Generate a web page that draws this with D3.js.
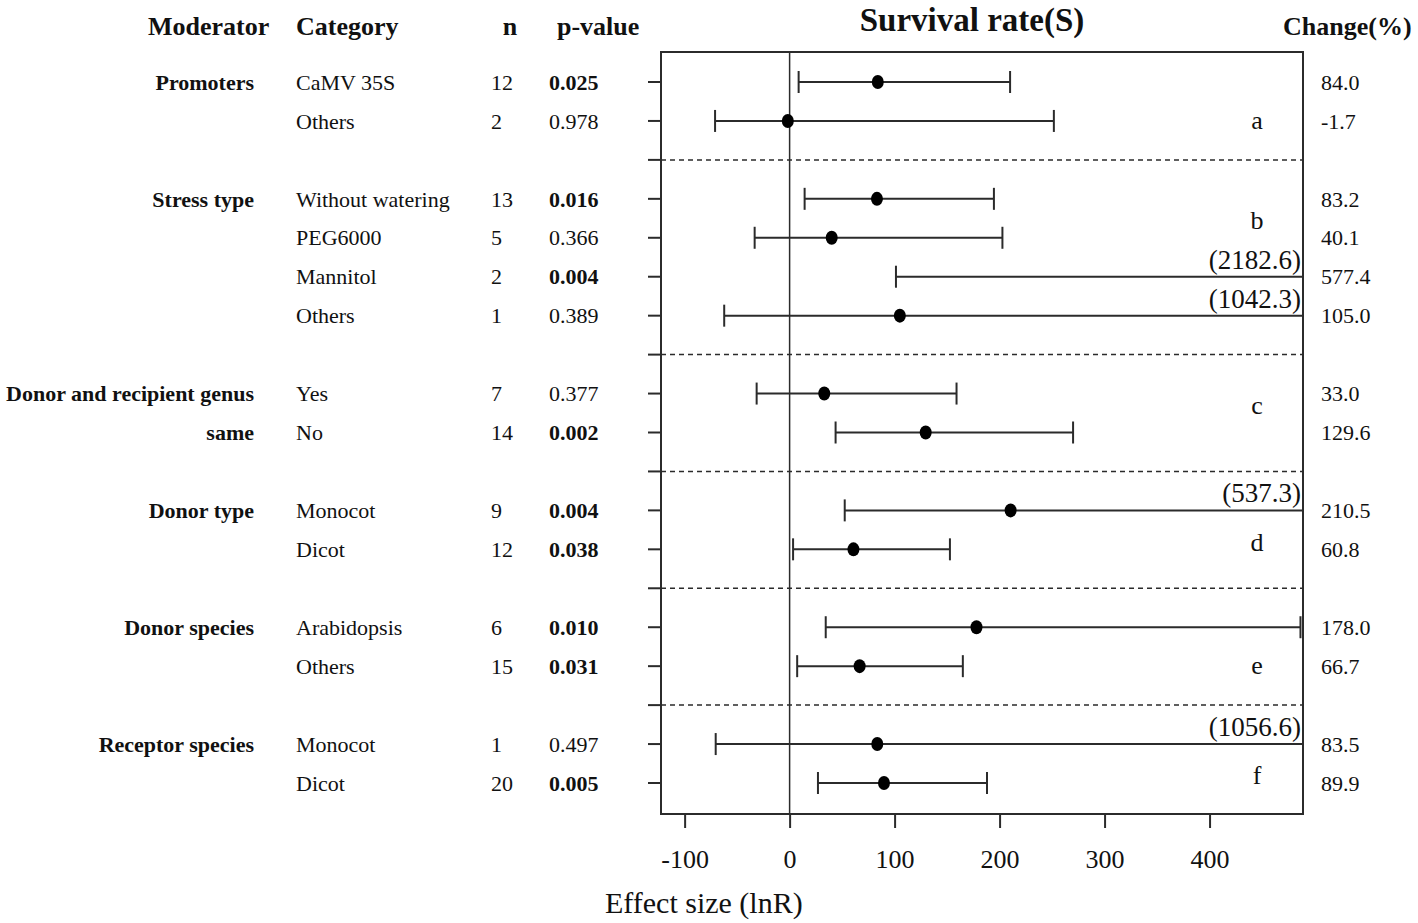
<!DOCTYPE html>
<html>
<head>
<meta charset="utf-8">
<script src="https://cdn.jsdelivr.net/npm/d3@7"></script>
<style>
  html, body { margin: 0; padding: 0; background: #fff; }
  svg { display: block; }
  text { font-family: "Liberation Serif", "Times New Roman", serif; fill: #111; }
</style>
</head>
<body>
<svg id="chart" width="1418" height="923"></svg>
<script>
// ---------- data ----------
const groupNames = ["Promoters", "Stress type", "Donor and recipient genus|same", "Donor type", "Donor species", "Receptor species"];
const groupLetters = ["a", "b", "c", "d", "e", "f"];
const letterRows = [1, 3.57, 8.32, 11.84, 15.0, 17.82];
const categories = ["CaMV 35S", "Others", "Without watering", "PEG6000", "Mannitol", "Others", "Yes", "No", "Monocot", "Dicot", "Arabidopsis", "Others", "Monocot", "Dicot"];
const groupOf = [0, 0, 1, 1, 1, 1, 2, 2, 3, 3, 4, 4, 5, 5];
const nValues = [12, 2, 13, 5, 2, 1, 7, 14, 9, 12, 6, 15, 1, 20];
const pValues = ["0.025", "0.978", "0.016", "0.366", "0.004", "0.389", "0.377", "0.002", "0.004", "0.038", "0.010", "0.031", "0.497", "0.005"];
const means = [84.0, -1.7, 83.2, 40.1, 577.4, 105.0, 33.0, 129.6, 210.5, 60.8, 178.0, 66.7, 83.5, 89.9];
const lowers = [8.6, -71.0, 14.3, -33.3, 101.3, -62.3, -31.4, 43.8, 52.5, 3.3, 34.4, 7.2, -70.4, 27.0];
const uppers = [210.0, 251.7, 194.6, 202.7, 2182.6, 1042.3, 159.0, 270.0, 537.3, 152.7, 486.6, 165.0, 1056.6, 188.0];
const xTicks = [-100, 0, 100, 200, 300, 400];

// ---------- layout ----------
const svg = d3.select("#chart");
const box = { left: 661, right: 1303, top: 52, bottom: 814 };
const x = d3.scaleLinear().domain([-122.5, 489]).range([box.left, box.right]);
const nRows = 19;
const y = d3.scaleLinear().domain([0, nRows - 1]).range([82, 783]);
const ink = "#2b2b2b";

const rows = categories.map((c, i) => ({
  cat: c, g: groupOf[i], n: nValues[i], p: pValues[i],
  mean: means[i], lo: lowers[i], hi: uppers[i], row: i + groupOf[i]
}));
const sepRows = groupNames.slice(0, -1).map((_, g) => d3.max(rows.filter(r => r.g === g), r => r.row) + 1);

// ---------- headers ----------
const hdr = svg.append("g").attr("font-weight", "bold").attr("font-size", 26);
hdr.append("text").attr("x", 148).attr("y", 35).text("Moderator");
hdr.append("text").attr("x", 296).attr("y", 35).text("Category");
hdr.append("text").attr("x", 510).attr("y", 35).attr("text-anchor", "middle").text("n");
hdr.append("text").attr("x", 557).attr("y", 35).text("p-value");
hdr.append("text").attr("x", 1283).attr("y", 35).text("Change(%)");
svg.append("text").attr("x", 972).attr("y", 31).attr("text-anchor", "middle")
  .attr("font-weight", "bold").attr("font-size", 33).text("Survival rate(S)");

// ---------- left table ----------
groupNames.forEach((name, g) => {
  const first = d3.min(rows.filter(r => r.g === g), r => r.row);
  name.split("|").forEach((line, k) => {
    svg.append("text").attr("x", 254).attr("y", y(first + k)).attr("dy", "0.35em")
      .attr("text-anchor", "end").attr("font-weight", "bold").attr("font-size", 22).text(line);
  });
});
const tbl = svg.append("g").attr("font-size", 22);
tbl.selectAll("text.cat").data(rows).join("text").attr("class", "cat")
  .attr("x", 296).attr("y", d => y(d.row)).attr("dy", "0.35em").text(d => d.cat);
tbl.selectAll("text.n").data(rows).join("text").attr("class", "n")
  .attr("x", 491).attr("y", d => y(d.row)).attr("dy", "0.35em").text(d => d.n);
tbl.selectAll("text.p").data(rows).join("text").attr("class", "p")
  .attr("x", 549).attr("y", d => y(d.row)).attr("dy", "0.35em")
  .attr("font-weight", d => (+d.p < 0.05 ? "bold" : "normal")).text(d => d.p);
tbl.selectAll("text.chg").data(rows).join("text").attr("class", "chg")
  .attr("x", 1321).attr("y", d => y(d.row)).attr("dy", "0.35em").text(d => d.mean.toFixed(1));

// ---------- plot box ----------
const plot = svg.append("g");
// left row ticks
plot.selectAll("line.rt").data(d3.range(nRows)).join("line").attr("class", "rt")
  .attr("x1", box.left - 13).attr("x2", box.left).attr("y1", d => y(d)).attr("y2", d => y(d))
  .attr("stroke", ink).attr("stroke-width", 2);
// separators
plot.selectAll("line.sep").data(sepRows).join("line").attr("class", "sep")
  .attr("x1", box.left).attr("x2", box.right).attr("y1", d => y(d)).attr("y2", d => y(d))
  .attr("stroke", ink).attr("stroke-width", 1.5).attr("stroke-dasharray", "5,4");
// zero line
plot.append("line").attr("x1", x(0)).attr("x2", x(0)).attr("y1", box.top).attr("y2", box.bottom)
  .attr("stroke", ink).attr("stroke-width", 1.5);
// box
plot.append("rect").attr("x", box.left).attr("y", box.top)
  .attr("width", box.right - box.left).attr("height", box.bottom - box.top)
  .attr("fill", "none").attr("stroke", ink).attr("stroke-width", 2);

// x axis
const xAxis = d3.axisBottom(x).tickValues(xTicks).tickSize(14).tickPadding(13).tickFormat(d => String(d));
const ax = svg.append("g").attr("transform", `translate(0,${box.bottom})`).call(xAxis);
ax.select(".domain").remove();
ax.selectAll(".tick line").attr("stroke", ink).attr("stroke-width", 2);
ax.selectAll(".tick text").attr("font-family", "'Liberation Sans', Arial, sans-serif")
  .attr("font-size", 26).attr("fill", "#333").attr("dy", "1.05em");
svg.append("text").attr("x", 605).attr("y", 913).attr("font-size", 30).text("Effect size (lnR)");

// error bars
const [dMin, dMax] = x.domain();
const cap = 11;
const bars = plot.selectAll("g.bar").data(rows).join("g").attr("class", "bar");
bars.append("line")
  .attr("x1", d => x(Math.max(d.lo, dMin))).attr("x2", d => x(Math.min(d.hi, dMax)))
  .attr("y1", d => y(d.row)).attr("y2", d => y(d.row))
  .attr("stroke", ink).attr("stroke-width", 2);
bars.filter(d => d.lo >= dMin).append("line")
  .attr("x1", d => x(d.lo)).attr("x2", d => x(d.lo))
  .attr("y1", d => y(d.row) - cap).attr("y2", d => y(d.row) + cap)
  .attr("stroke", ink).attr("stroke-width", 2);
bars.filter(d => d.hi <= dMax).append("line")
  .attr("x1", d => x(d.hi)).attr("x2", d => x(d.hi))
  .attr("y1", d => y(d.row) - cap).attr("y2", d => y(d.row) + cap)
  .attr("stroke", ink).attr("stroke-width", 2);
bars.filter(d => d.mean <= dMax).append("ellipse")
  .attr("cx", d => x(d.mean)).attr("cy", d => y(d.row)).attr("rx", 6).attr("ry", 7)
  .attr("fill", "#000");
bars.filter(d => d.hi > dMax).append("text")
  .attr("x", box.right - 2).attr("y", d => y(d.row) - 8).attr("text-anchor", "end")
  .attr("font-size", 27).text(d => `(${d.hi.toFixed(1)})`);

// group letters
plot.selectAll("text.letter").data(groupLetters).join("text").attr("class", "letter")
  .attr("x", 1257).attr("y", (d, i) => y(letterRows[i])).attr("dy", "0.3em")
  .attr("text-anchor", "middle").attr("font-size", 26).text(d => d);
</script>
</body>
</html>
